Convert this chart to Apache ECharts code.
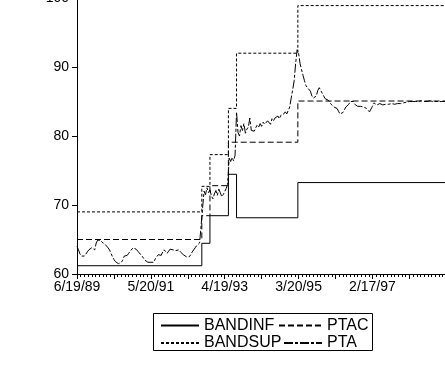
<!DOCTYPE html>
<html>
<head>
<meta charset="utf-8">
<script src="https://cdn.jsdelivr.net/npm/echarts@6/dist/echarts.min.js"></script>
<style>
  html, body { margin: 0; padding: 0; background: #fff; }
  #chart { width: 445px; height: 366px; }
</style>
</head>
<body>
<div id="chart"></div>
<script>
// Weekly observations starting Monday 6/19/89; x positions are week numbers.
const lastWeek = 505;
const tickLabels = ['6/19/89', '5/20/91', '4/19/93', '3/20/95', '2/17/97'];

// Step series: week at which each level starts, and the level values.
const stepWeeks = [0, 169, 180, 205, 216, 299];
const ptac    = [65.0, 68.45, 72.8, 79.1, 79.1, 85.07];
const bandsup = [69.0, 72.7, 77.3, 84.0, 92.0, 98.9];
const bandinf = [61.2, 64.45, 68.45, 74.45, 68.15, 73.25];

// Market rate, one reading every ptaStep weeks.
const ptaStep = 2;
const pta = [
  64.0, 63.5, 62.9, 62.6, 62.6, 62.6, 62.7, 63.2, 63.5, 63.7,
  63.8, 63.6, 63.5, 64.5, 64.9, 65.1, 64.9, 64.6, 64.5, 64.3,
  64.2, 63.8, 63.5, 63.0, 62.5, 62.1, 61.8, 61.6, 61.5, 61.4,
  61.7, 62.0, 62.6, 62.7, 62.7, 63.0, 63.3, 63.5, 63.8, 64.0,
  63.6, 63.4, 63.1, 62.9, 62.6, 62.3, 62.0, 61.8, 61.7, 61.6,
  61.7, 61.7, 61.7, 62.2, 62.5, 62.8, 63.0, 62.7, 63.2, 63.5,
  63.3, 63.0, 63.3, 63.6, 63.8, 63.5, 63.3, 63.4, 63.5, 63.5,
  63.2, 63.0, 62.8, 62.6, 62.5, 62.5, 62.5, 62.8, 63.2, 63.5,
  63.8, 64.1, 64.3, 64.5, 64.7, 69.5, 72.0, 71.5, 72.5, 71.8,
  72.2, 71.3, 70.9, 71.6, 72.1, 71.4, 72.3, 71.8, 71.2, 71.5,
  71.6, 72.4, 73.0, 76.8, 76.3, 76.9, 76.4, 77.2, 83.5, 80.5,
  80.0, 81.5, 80.8, 81.8, 80.4, 81.0, 81.3, 82.6, 80.8, 81.0,
  80.7, 81.2, 81.6, 81.3, 81.8, 81.4, 82.0, 81.7, 81.6, 82.2,
  82.0, 81.7, 82.5, 82.2, 82.6, 82.4, 82.9, 82.5, 83.0, 82.8,
  83.2, 83.5, 83.2, 83.4, 84.2, 85.5, 86.7, 88.0, 90.5, 92.5,
  92.0, 90.5, 89.6, 88.8, 88.0, 87.3, 87.0, 87.1, 86.5, 85.8,
  85.5, 85.4, 85.8, 86.6, 87.0, 86.8, 86.2, 85.8, 85.4, 85.2,
  85.2, 85.0, 84.6, 84.4, 84.2, 84.3, 84.0, 83.6, 83.2, 83.0,
  83.4, 83.8, 84.2, 84.3, 84.6, 85.0, 85.2, 85.0, 84.6, 84.4,
  84.3, 84.2, 84.3, 84.2, 84.2, 84.2, 84.0, 83.8, 83.5, 83.5,
  84.3, 84.8, 84.6, 84.5, 84.6, 84.7, 84.6, 84.5, 84.6, 84.6,
  84.5, 84.6, 84.6, 84.7, 84.6, 84.6, 84.7, 84.7, 84.8, 84.7,
  84.7, 84.8, 84.8, 84.9, 84.9, 85.0, 84.9, 85.0, 85.0, 85.0,
  85.1, 85.0, 85.0, 85.1, 85.0, 85.0, 85.1, 85.0, 85.0, 85.1,
  85.0, 85.0, 85.1, 85.0, 85.0, 85.0, 85.1, 85.0, 85.0, 85.0,
  85.0, 85.0, 85.0
];

const FONT = '"Liberation Sans", Arial, sans-serif';
const INK = '#000';

function stepPoints(levels) {
  const pts = stepWeeks.map((w, i) => [w, levels[i]]);
  pts.push([lastWeek, levels[levels.length - 1]]);
  return pts;
}

function lineSeries(name, data, dash, step) {
  return {
    name: name,
    type: 'line',
    data: data,
    step: step ? 'end' : false,
    symbol: 'none',
    silent: true,
    animation: false,
    color: INK,
    itemStyle: { color: INK },
    lineStyle: { color: INK, width: 1, type: dash }
  };
}

// One legend block per entry so the two columns sit like a boxed key.
function legendAt(name, left, top, width) {
  return {
    data: [name],
    left: left,
    top: top,
    padding: 0,
    itemWidth: width,
    itemHeight: 12,
    itemGap: 0,
    selectedMode: false,
    itemStyle: { opacity: 0 },
    textStyle: { fontFamily: FONT, fontSize: 16, color: INK }
  };
}

const chart = echarts.init(document.getElementById('chart'), null, { renderer: 'canvas' });

chart.setOption({
  backgroundColor: '#fff',
  animation: false,
  grid: { left: 77, right: -5, top: -2, bottom: 92, containLabel: false, outerBoundsMode: 'none' },
  xAxis: {
    type: 'value',
    min: 0,
    max: lastWeek,
    interval: 50,
    axisLine: { show: true, lineStyle: { color: INK, width: 1 } },
    axisTick: { show: true, length: 5, lineStyle: { color: INK } },
    minorTick: { show: true, splitNumber: 10, length: 3, lineStyle: { color: INK } },
    splitLine: { show: false },
    axisLabel: {
      fontFamily: FONT, fontSize: 14, color: INK, margin: 6,
      showMinLabel: true, showMaxLabel: false, hideOverlap: false,
      formatter: v => (v % 100 === 0 && tickLabels[v / 100]) ? tickLabels[v / 100] : ''
    }
  },
  yAxis: {
    type: 'value',
    min: 60,
    max: 100,
    interval: 10,
    axisLine: { show: true, lineStyle: { color: INK, width: 1 } },
    axisTick: { show: true, length: 5, lineStyle: { color: INK } },
    splitLine: { show: false },
    axisLabel: { fontFamily: FONT, fontSize: 14, color: INK, margin: 8 }
  },
  legend: [
    legendAt('BANDINF', 160, 317.5, 38),
    legendAt('PTAC', 278, 317.5, 43),
    legendAt('BANDSUP', 160, 335, 38),
    legendAt('PTA', 283, 335, 38)
  ],
  graphic: [{
    type: 'rect',
    shape: { x: 153.5, y: 313.5, width: 219, height: 37 },
    style: { fill: 'none', stroke: INK, lineWidth: 1 },
    silent: true
  }],
  series: [
    lineSeries('BANDINF', stepPoints(bandinf), 'solid', true),
    lineSeries('BANDSUP', stepPoints(bandsup), [3, 2], true),
    lineSeries('PTAC', stepPoints(ptac), [6, 3], true),
    lineSeries('PTA', pta.map((v, i) => [i * ptaStep, v]), [9, 2, 3, 2], false)
  ]
});
</script>
</body>
</html>
